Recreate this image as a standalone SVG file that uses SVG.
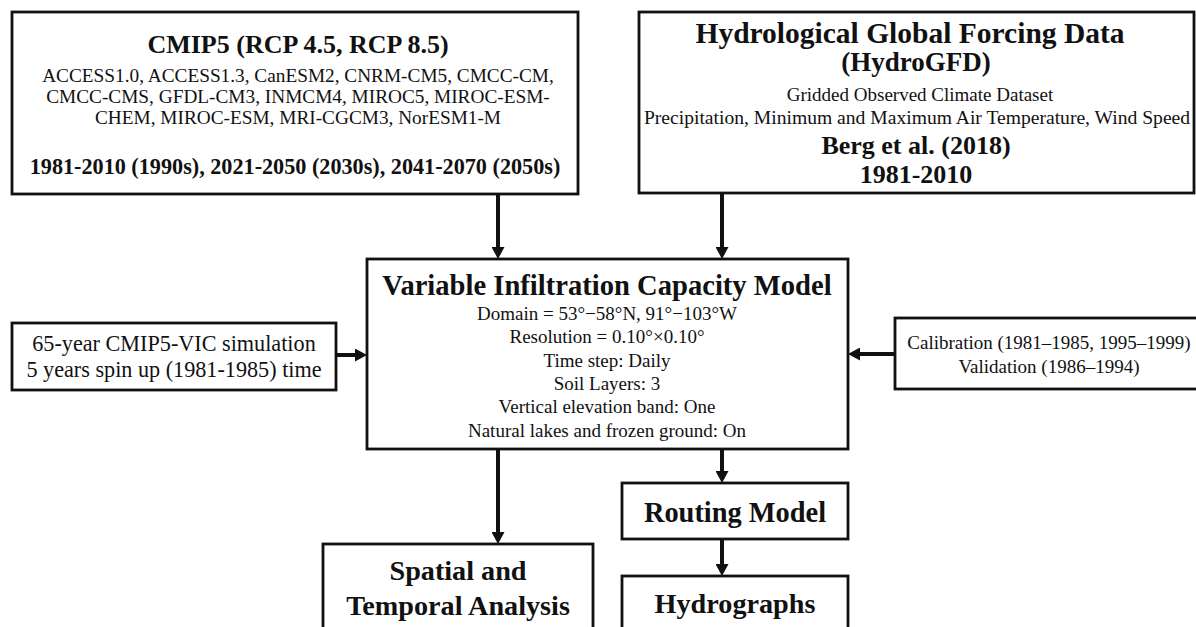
<svg xmlns="http://www.w3.org/2000/svg" width="1196" height="627" viewBox="0 0 1196 627">
<style>
text{font-family:"Liberation Serif","Times New Roman",serif;fill:#111;text-anchor:middle}
.b{font-weight:bold}
.box{fill:#fff;stroke:#111;stroke-width:2.8}
.arr{stroke:#111;stroke-width:4;fill:none;marker-end:url(#ah)}
</style>
<defs>
<marker id="ah" viewBox="0 0 12 13" markerWidth="12" markerHeight="13" refX="0" refY="6.5" orient="auto" markerUnits="userSpaceOnUse">
<path d="M0,0 L12,6.5 L0,13 z" fill="#111"/>
</marker>
</defs>
<rect width="1196" height="627" fill="#fff"/>
<g id="connectors">
<line class="arr" x1="498" y1="194" x2="498" y2="247"/>
<line class="arr" x1="722" y1="194" x2="722" y2="247"/>
<line class="arr" x1="336" y1="355" x2="355" y2="355"/>
<line class="arr" x1="895" y1="354" x2="860" y2="354"/>
<line class="arr" x1="498" y1="449" x2="498" y2="532"/>
<line class="arr" x1="722" y1="449" x2="722" y2="471"/>
<line class="arr" x1="722" y1="539" x2="722" y2="564"/>
</g>
<g id="cmip5">
<rect class="box" x="12" y="12" width="566" height="182"/>
<text class="b" x="298" y="53" font-size="26">CMIP5 (RCP 4.5, RCP 8.5)</text>
<text x="298" y="82" font-size="19.3">ACCESS1.0, ACCESS1.3, CanESM2, CNRM-CM5, CMCC-CM,</text>
<text x="298" y="103" font-size="19.3">CMCC-CMS, GFDL-CM3, INMCM4, MIROC5, MIROC-ESM-</text>
<text x="298" y="124" font-size="19.3">CHEM, MIROC-ESM, MRI-CGCM3, NorESM1-M</text>
<text class="b" x="295" y="174" font-size="22.2">1981-2010 (1990s), 2021-2050 (2030s), 2041-2070 (2050s)</text>
</g>
<g id="hydrogfd">
<rect class="box" x="639" y="12" width="555" height="181"/>
<text class="b" x="910" y="43" font-size="29.5">Hydrological Global Forcing Data</text>
<text class="b" x="916" y="71" font-size="27">(HydroGFD)</text>
<text x="920" y="101" font-size="19">Gridded Observed Climate Dataset</text>
<text x="917" y="124" font-size="19.6">Precipitation, Minimum and Maximum Air Temperature, Wind Speed</text>
<text class="b" x="916" y="154" font-size="26">Berg et al. (2018)</text>
<text class="b" x="916" y="183" font-size="26">1981-2010</text>
</g>
<g id="spinup">
<rect class="box" x="12" y="323" width="324" height="67"/>
<text x="174" y="351" font-size="22.2">65-year CMIP5-VIC simulation</text>
<text x="174" y="377" font-size="22.2">5 years spin up (1981-1985) time</text>
</g>
<g id="vic">
<rect class="box" x="367" y="259" width="481" height="190"/>
<text class="b" x="607" y="295" font-size="28.6">Variable Infiltration Capacity Model</text>
<text x="607" y="320" font-size="19">Domain = 53°−58°N, 91°−103°W</text>
<text x="607" y="343" font-size="19">Resolution = 0.10°×0.10°</text>
<text x="607" y="367" font-size="19">Time step: Daily</text>
<text x="607" y="390" font-size="19">Soil Layers: 3</text>
<text x="607" y="413" font-size="19">Vertical elevation band: One</text>
<text x="607" y="437" font-size="19">Natural lakes and frozen ground: On</text>
</g>
<g id="calibration">
<rect class="box" x="895" y="318" width="310" height="71"/>
<text x="1049" y="349" font-size="19">Calibration (1981–1985, 1995–1999)</text>
<text x="1049" y="373" font-size="19">Validation (1986–1994)</text>
</g>
<g id="routing">
<rect class="box" x="622" y="483" width="226" height="56"/>
<text class="b" x="735" y="522" font-size="28.4">Routing Model</text>
</g>
<g id="hydrographs">
<rect class="box" x="622" y="576" width="226" height="70"/>
<text class="b" x="735" y="613" font-size="28.2">Hydrographs</text>
</g>
<g id="spatial">
<rect class="box" x="323" y="544" width="270" height="100"/>
<text class="b" x="458" y="580" font-size="28.2">Spatial and</text>
<text class="b" x="458" y="615" font-size="28.2">Temporal Analysis</text>
</g>
</svg>
